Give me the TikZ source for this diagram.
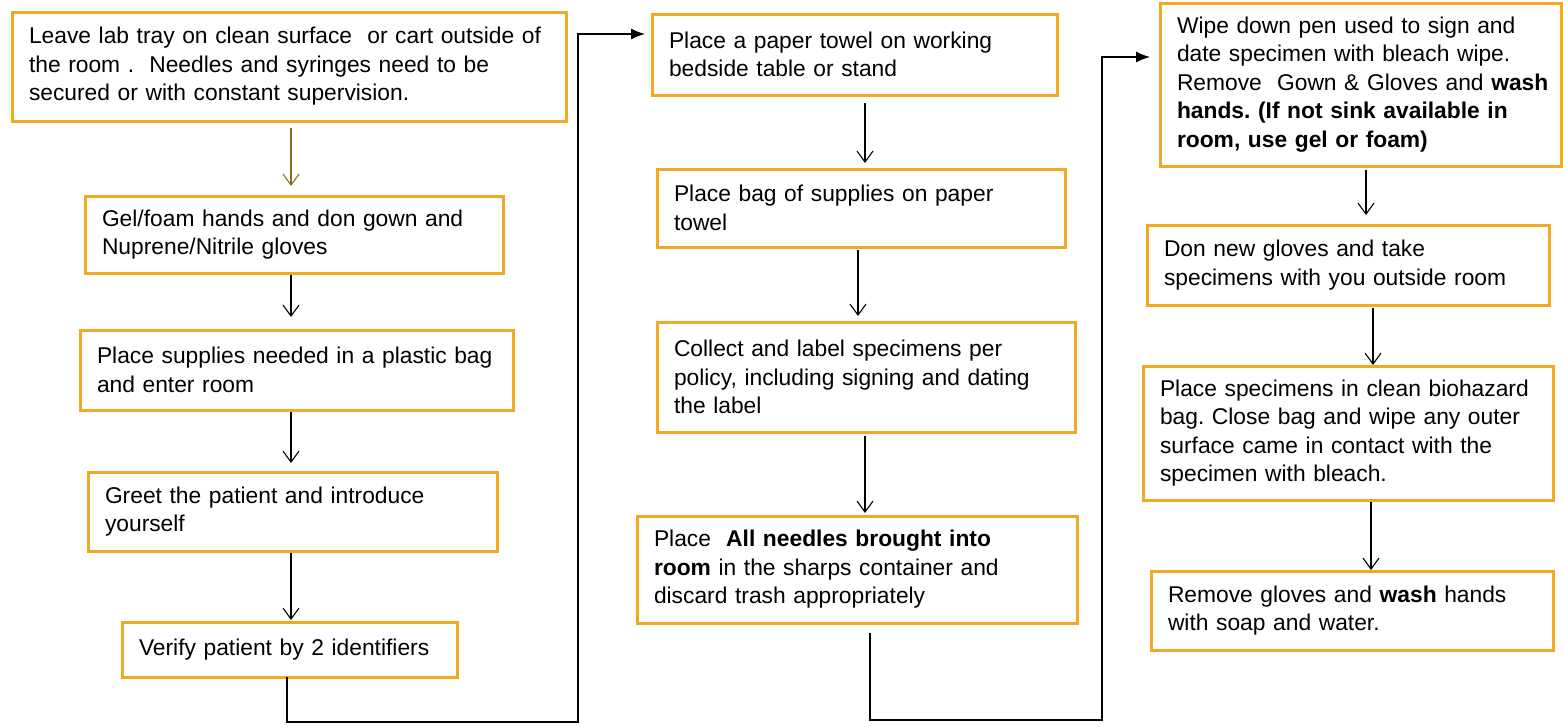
\documentclass[tikz,border=0pt]{standalone}
\usepackage{fontspec}
\setmainfont{Liberation Sans}
\usetikzlibrary{arrows.meta}
\usetikzlibrary{positioning}
\definecolor{boxorange}{HTML}{F0A923}
\definecolor{leadbrown}{HTML}{8C6A22}
\frenchspacing

\begin{document}
\begin{tikzpicture}[
    x=1pt, y=-1pt,
    task/.style={%
      draw=boxorange,
      line width=3pt,
      rectangle,
      anchor=north west,
      align=left,
      inner xsep=17pt,
      inner ysep=4pt,
      outer sep=0pt,
      font={\fontsize{22.8}{28.5}\selectfont},
    },
    flow/.style={-{Straight Barb[length=11pt,width=16pt]}, line width=1.1pt},
    link/.style={-{Latex[length=14pt,width=11pt]}, line width=1.3pt},
  ]
    \useasboundingbox (0,0) rectangle (1563,726);

    \node [task, text width=520pt, minimum height=109pt] (B1) at (12,12) {Leave lab tray on clean surface\ \ or cart outside of\\the room .\ \ Needles and syringes need to be\\secured or with constant supervision.};
    \node [task, text width=384pt, minimum height=77pt] (B2) at (85,196) {Gel/foam hands and don gown and\\Nuprene/Nitrile gloves};
    \node [task, text width=399pt, minimum height=80pt] (B3) at (80,330) {Place supplies needed in a plastic bag\\and enter room};
    \node [task, text width=375pt, minimum height=79pt] (B4) at (88,472) {Greet the patient and introduce\\yourself};
    \node [task, text width=301pt, minimum height=55pt] (B5) at (122,622) {Verify patient by 2 identifiers};

    \node [task, text width=371pt, minimum height=81pt] (B6) at (652,14) {Place a paper towel on working\\bedside table or stand};
    \node [task, text width=374pt, minimum height=78pt] (B7) at (657,169) {Place bag of supplies on paper\\towel};
    \node [task, text width=384pt, minimum height=110pt] (B8) at (657,322) {Collect and label specimens per\\policy, including signing and dating\\the label};
    \node [task, text width=406pt, minimum height=107pt] (B9) at (637,516) {Place\ \ \textbf{All needles brought into}\\\textbf{room} in the sharps container and\\discard trash appropriately};

    \node [task, text width=367pt, minimum height=163pt] (B10) at (1160,3) {Wipe down pen used to sign and\\date specimen with bleach wipe.\\Remove~~Gown~\&~Gloves~and~\textbf{wash}\\\textbf{hands. (If not sink available in}\\\textbf{room, use gel or foam)}};
    \node [task, text width=368pt, minimum height=80pt] (B11) at (1147,225) {Don new gloves and take\\specimens with you outside room};
    \node [task, text width=376pt, minimum height=134pt] (B12) at (1143,366) {Place specimens in clean biohazard\\bag. Close bag and wipe any outer\\surface came in contact with the\\specimen with bleach.};
    \node [task, text width=368pt, minimum height=79pt] (B13) at (1151,571) {Remove gloves and \textbf{wash} hands\\with soap and water.};

    \draw [flow, leadbrown, shorten <=7pt, shorten >=10pt] ([xshift=2pt]B1.south) -- ([xshift=2pt]B1.south |- B2.north);
    \draw [flow, shorten <=2pt, shorten >=13pt] ([xshift=-3pt]B2.south) -- ([xshift=-3pt]B2.south |- B3.north);
    \draw [flow, shorten <=2pt, shorten >=9pt] ([xshift=-5.5pt]B3.south) -- ([xshift=-5.5pt]B3.south |- B4.north);
    \draw [flow, shorten <=2pt, shorten >=2pt] ([xshift=-1.5pt]B4.south) -- ([xshift=-1.5pt]B4.south |- B5.north);

    \draw [flow, shorten <=8pt, shorten >=6pt] ([xshift=10.5pt]B6.south) -- ([xshift=10.5pt]B6.south |- B7.north);
    \draw [flow, shorten <=3pt, shorten >=6pt] ([xshift=-3pt]B7.south) -- ([xshift=-3pt]B7.south |- B8.north);
    \draw [flow, shorten <=4pt, shorten >=3pt] ([xshift=-1pt]B8.south) -- ([xshift=-1pt]B8.south |- B9.north);

    \draw [flow, shorten <=4pt, shorten >=10pt] ([xshift=5.5pt]B10.south) -- ([xshift=5.5pt]B10.south |- B11.north);
    \draw [flow, shorten <=3pt, shorten >=1pt] ([xshift=25pt]B11.south) -- ([xshift=25pt]B11.south |- B12.north);
    \draw [flow, shorten <=2pt, shorten >=1pt] ([xshift=23pt]B12.south) -- ([xshift=23pt]B12.south |- B13.north);

    \coordinate (turnA) at (578,722);
    \coordinate (turnB) at (578,34);
    \draw [link, shorten >=7pt] ([xshift=-2.5pt]B5.south) |- (turnA) -- (turnB) -- (B6.west |- turnB);

    \coordinate (turnC) at (1102,720);
    \coordinate (turnD) at (1102,57);
    \draw [link, shorten <=10pt, shorten >=10pt] ([xshift=13pt]B9.south) |- (turnC) -- (turnD) -- (B10.west |- turnD);
\end{tikzpicture}
\end{document}
